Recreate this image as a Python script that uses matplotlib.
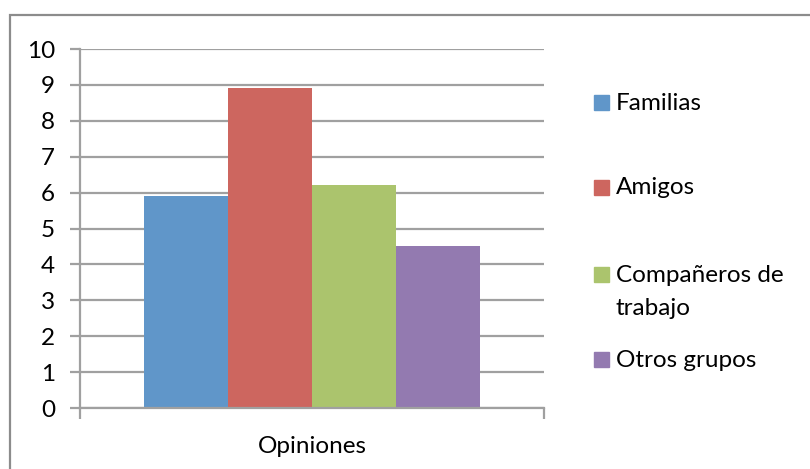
import matplotlib
matplotlib.use('Agg')
import matplotlib.pyplot as plt
from matplotlib.patches import Rectangle

# datos del gráfico
categorias = ['Opiniones']
series = ['Familias', 'Amigos', 'Compañeros de\ntrabajo', 'Otros grupos']
valores = [5.9, 8.9, 6.2, 4.5]
colores = ['#6096C9', '#CD665F', '#ABC46D', '#937AB0']

plt.rcParams['font.family'] = ['Lato', 'DejaVu Sans']
fs = 17.5

fig = plt.figure(figsize=(8.1, 4.69), dpi=100)
W, H = 810, 469
ax = fig.add_axes([80 / W, 1 - 408 / H, 464 / W, 359 / H])

ancho = 0.1813
for i, (nombre, v, c) in enumerate(zip(series, valores, colores)):
    ax.bar(0 + (i - 1.5) * ancho, v, width=ancho, color=c, zorder=3)

gris = '#A0A0A0'
ax.set_xlim(-0.5, 0.5)
ax.set_ylim(0, 10)
ax.set_yticks(range(0, 11))
ax.yaxis.grid(True, color=gris, linewidth=1.6, zorder=0)
ax.tick_params(axis='y', length=7, width=1.6, color=gris, pad=11, labelsize=fs)

ax.set_xticks([0])
ax.set_xticklabels(categorias)
ax.set_xticks([-0.5, 0.5], minor=True)
ax.tick_params(axis='x', which='major', length=0, pad=20, labelsize=fs)
ax.tick_params(axis='x', which='minor', length=8, width=1.6, color=gris)

for lado in ['top', 'right']:
    ax.spines[lado].set_visible(False)
for lado in ['left', 'bottom']:
    ax.spines[lado].set_color(gris)
    ax.spines[lado].set_linewidth(1.6)
    ax.spines[lado].set_zorder(4)

# leyenda a la derecha
filas_y = [103, 188, 275, 360]
for nombre, c, y in zip(series, colores, filas_y):
    fig.patches.append(Rectangle((594 / W, 1 - (y + 7) / H), 15 / W, 15 / H,
                                 transform=fig.transFigure, color=c))
    if '\n' in nombre:
        fig.text(616 / W, 1 - (y - 10) / H, nombre, fontsize=fs, va='top', ha='left',
                 linespacing=1.7)
    else:
        fig.text(616 / W, 1 - y / H, nombre, fontsize=fs, va='center', ha='left')

# marco del área del gráfico
fig.patches.append(Rectangle((10 / W, -0.05), 1.2, 1 - 15 / H + 0.05,
                             transform=fig.transFigure, fill=False,
                             edgecolor='#8C8C8C', linewidth=1.6))

fig.savefig('out.png', dpi=100)
